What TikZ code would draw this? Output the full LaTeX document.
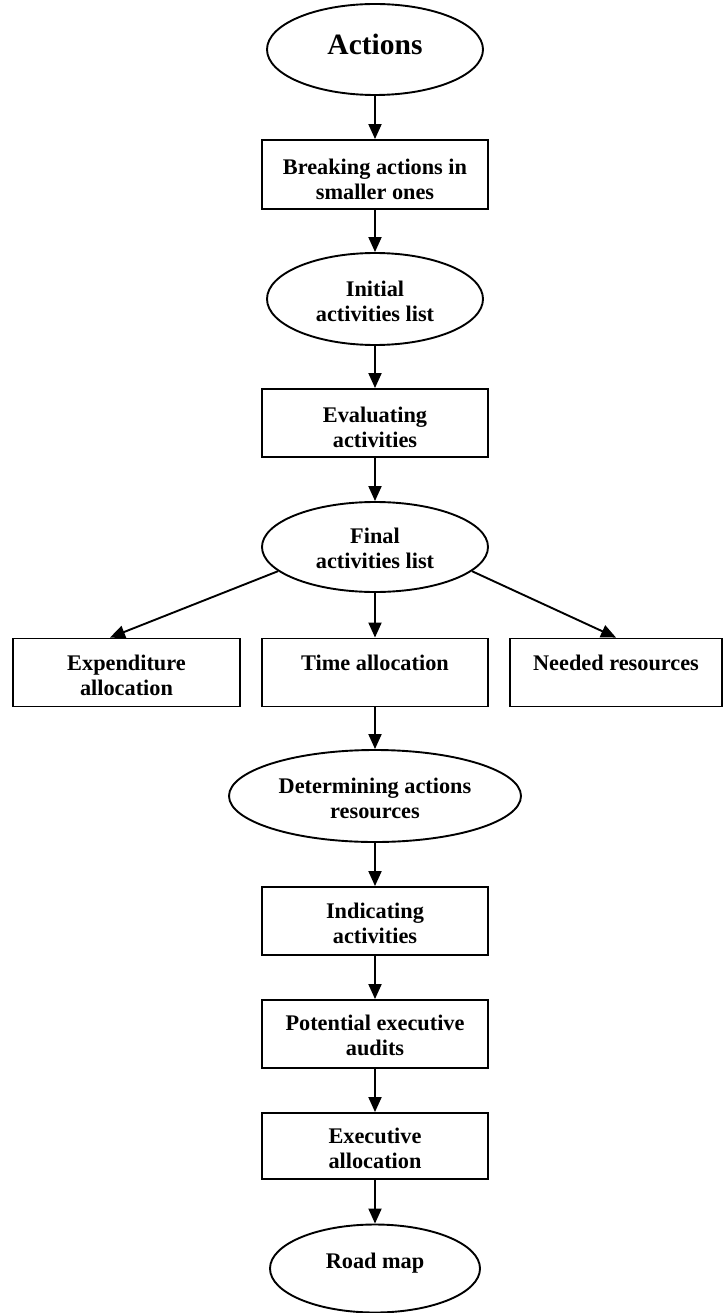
\documentclass[tikz,border=0pt]{standalone}
\usepackage{fontspec}
\setmainfont{Liberation Serif}
\usetikzlibrary{arrows.meta,shapes.geometric}

% text block of a box: first baseline #1 below the top, lines centred
\newcommand{\rectxt}[2][30pt]{\parbox[c][66pt][t]{210pt}{\centering\rule{0pt}{#1}#2}}
% text block of an oval: width #1, first baseline #2 below the top
\newcommand{\elltxt}[3]{\parbox[c][60pt][t]{#1}{\centering\rule{0pt}{#2}#3}}

\begin{document}
\begin{tikzpicture}[x=1pt,y=-1pt,
  every node/.style={font=\fontsize{22.3}{25}\selectfont\bfseries},
  stepbox/.style={draw, rectangle, line width=1.9pt, inner sep=0pt,
    minimum width=226pt, minimum height=68pt},
  oval/.style={draw, ellipse, line width=1.9pt, inner sep=0pt},
  flow/.style={line width=1.9pt, -{Triangle[length=15pt,width=13pt]}}]

\useasboundingbox (0,0) rectangle (724,1313);

% main column
\node[oval, minimum width=216pt, minimum height=91pt,
  font=\fontsize{29.5}{32}\selectfont\bfseries] (act) at (375,49.5)
  {\elltxt{150pt}{35.5pt}{Actions}};
\node[stepbox, minimum height=69pt] (brk) at (375,174.5)
  {\rectxt[33.5pt]{Breaking actions in\\smaller ones}};
\node[oval, minimum width=216pt, minimum height=92pt] (ini) at (375,299)
  {\elltxt{150pt}{28pt}{Initial\\activities list}};
\node[stepbox] (eva) at (375,423)
  {\rectxt[32pt]{Evaluating\\activities}};
\node[oval, minimum width=226pt, minimum height=90pt] (fin) at (375,547)
  {\elltxt{155pt}{26pt}{Final\\activities list}};

% three parallel tasks
\node[stepbox, minimum width=227pt] (exp) at (126.5,672.5)
  {\rectxt[30.5pt]{Expenditure\\allocation}};
\node[stepbox] (tim) at (375,672.5)
  {\rectxt[30.5pt]{Time allocation}};
\node[stepbox, minimum width=212pt] (ned) at (616,672.5)
  {\rectxt[30.5pt]{Needed resources}};

% lower column
\node[oval, minimum width=292pt, minimum height=92pt] (det) at (375,796)
  {\elltxt{200pt}{27pt}{Determining actions\\resources}};
\node[stepbox] (ind) at (375,921)
  {\rectxt[30pt]{Indicating\\activities}};
\node[stepbox] (pot) at (375,1034)
  {\rectxt[29.7pt]{Potential executive\\audits}};
\node[stepbox, minimum height=66pt] (exe) at (375,1146)
  {\rectxt[30pt]{Executive\\allocation}};
\node[oval, minimum width=210pt, minimum height=88pt] (road) at (375,1268.5)
  {\elltxt{140pt}{29.5pt}{Road map}};

% connectors
\draw[flow] (act) -- (brk);
\draw[flow] (brk) -- (ini);
\draw[flow] (ini) -- (eva);
\draw[flow] (eva) -- (fin);
\draw[flow] (fin.194) -- ([xshift=-16.5pt]exp.north);
\draw[flow] (fin) -- (tim);
\draw[flow] (fin.-14) -- (ned.north);
\draw[flow] (tim) -- (det);
\draw[flow] (det) -- (ind);
\draw[flow] (ind) -- (pot);
\draw[flow] (pot) -- (exe);
\draw[flow] (exe) -- (road);
\end{tikzpicture}
\end{document}
